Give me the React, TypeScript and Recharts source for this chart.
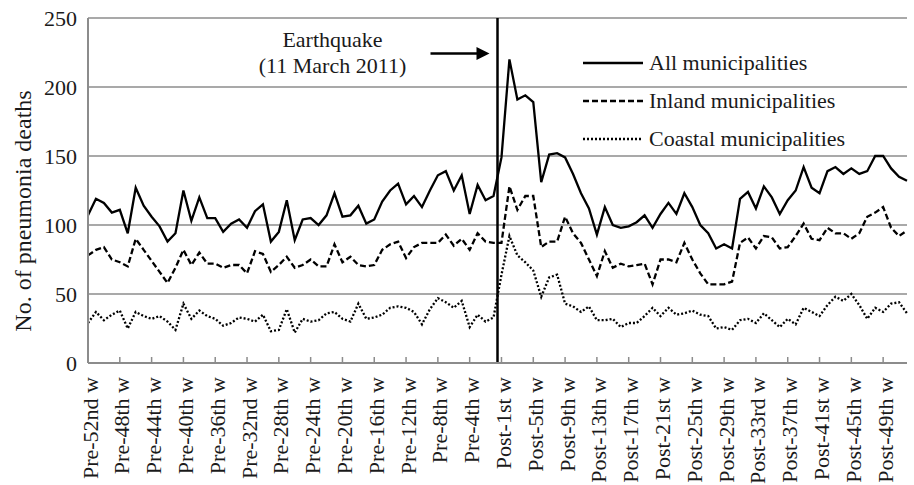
import {
  CartesianGrid,
  Legend,
  Line,
  LineChart,
  ReferenceLine,
  XAxis,
  YAxis,
} from "recharts";

const FONT = '"Liberation Serif", "Times New Roman", serif';
const TEXT = "#1a1a1a";
const GRID = "#8c8c8c";

const ordinal = (n: number) => {
  const tail = n % 100;
  if (tail >= 11 && tail <= 13) return `${n}th`;
  if (n % 10 === 1) return `${n}st`;
  if (n % 10 === 2) return `${n}nd`;
  if (n % 10 === 3) return `${n}rd`;
  return `${n}th`;
};

// week categories: 52 weeks before and 52 weeks after the earthquake
const preWeeks = Array.from({ length: 52 }, (_, i) => `Pre-${ordinal(52 - i)} w`);
const postWeeks = Array.from({ length: 52 }, (_, i) => `Post-${ordinal(i + 1)} w`);
const weeks = [...preWeeks, ...postWeeks];

// a label every 4th week
const tickIndices = [
  0, 4, 8, 12, 16, 20, 24, 28, 32, 36, 40, 44, 48, 52, 56, 60, 64, 68, 72, 76,
  80, 84, 88, 92, 96, 100,
];
const yTicks = [0, 50, 100, 150, 200, 250];

const allMunicipalities = [
  107, 119, 116, 109, 111, 94, 127, 114, 106, 99, 88, 94, 125, 103, 120, 105, 105, 95,
  101, 104, 98, 110, 115, 88, 95, 118, 89, 104, 105, 100, 107, 123, 106, 107, 114,
  101, 104, 117, 125, 130, 115, 121, 113, 125, 136, 139, 125, 136, 108, 129, 118, 121,
  149, 220, 191, 194, 189, 131, 151, 152, 149, 137, 123, 112, 93, 113, 100, 98, 99,
  102, 107, 98, 108, 116, 108, 123, 113, 100, 94, 83, 86, 83, 119, 124, 112, 128,
  120, 108, 118, 125, 142, 127, 123, 139, 142, 137, 141, 137, 139, 150, 150, 141, 135, 132,
];

const inlandMunicipalities = [
  78, 82, 84, 75, 73, 70, 90, 82, 74, 66, 58, 69, 82, 71, 80, 72, 72, 69,
  71, 71, 65, 81, 79, 66, 71, 77, 69, 71, 75, 70, 70, 86, 73, 77, 71,
  70, 71, 82, 86, 88, 76, 84, 87, 87, 87, 93, 85, 90, 82, 94, 88, 87,
  87, 128, 111, 121, 121, 84, 88, 88, 106, 94, 87, 75, 63, 81, 69, 72, 70,
  71, 72, 57, 75, 75, 73, 87, 75, 65, 57, 57, 57, 59, 87, 91, 83, 92,
  91, 83, 84, 92, 101, 90, 89, 98, 94, 94, 90, 94, 106, 109, 113, 98, 92, 96,
];

const coastalMunicipalities = [
  29, 37, 31, 35, 38, 25, 37, 34, 32, 34, 30, 24, 43, 32, 38, 34, 32, 27,
  29, 33, 32, 30, 35, 23, 24, 39, 22, 32, 30, 31, 36, 37, 32, 30, 43,
  32, 33, 35, 40, 41, 40, 37, 28, 39, 47, 44, 40, 45, 26, 35, 30, 33,
  64, 92, 78, 73, 67, 48, 62, 64, 43, 41, 37, 41, 31, 31, 32, 26, 29,
  29, 34, 40, 34, 40, 35, 36, 38, 35, 34, 25, 26, 24, 31, 32, 29, 36,
  31, 26, 32, 28, 40, 37, 34, 42, 48, 45, 50, 42, 32, 40, 37, 43, 44, 36,
];

const chartData = weeks.map((week, idx) => ({
  idx,
  week,
  all: allMunicipalities[idx],
  inland: inlandMunicipalities[idx],
  coastal: coastalMunicipalities[idx],
}));

const seriesOrder = ["all", "inland", "coastal"];
const dashes: Record<string, string | undefined> = {
  all: undefined,
  inland: "6 3",
  coastal: "2 2",
};

function WeekTick({ x, payload }: { x?: number; payload?: { value: number } }) {
  if (x == null || !payload) return null;
  return (
    <text
      transform={`translate(${x + 2}, 377) rotate(-90)`}
      textAnchor="end"
      dominantBaseline="central"
      fontSize={22}
      fontFamily={FONT}
      fill={TEXT}
    >
      {weeks[payload.value]}
    </text>
  );
}

function YTitle() {
  return (
    <text
      transform="translate(23, 211) rotate(-90)"
      textAnchor="middle"
      dominantBaseline="central"
      fontSize={24}
      fontFamily={FONT}
      fill={TEXT}
    >
      No. of pneumonia deaths
    </text>
  );
}

function QuakeNote({ viewBox }: { viewBox?: { x: number } }) {
  const x = viewBox?.x ?? 0;
  return (
    <g fontFamily={FONT} fontSize={22} fill={TEXT}>
      <text x={x - 165} y={47} textAnchor="middle">
        Earthquake
      </text>
      <text x={x - 165} y={73} textAnchor="middle">
        (11 March 2011)
      </text>
      <line x1={x - 67} x2={x - 20} y1={53.5} y2={53.5} stroke="#000" strokeWidth={2.5} />
      <polygon points={`${x - 21},47 ${x - 8},53.5 ${x - 21},60`} fill="#000" />
    </g>
  );
}

function renderLegend(props: any) {
  const payload = [...(props.payload ?? [])].sort(
    (a: any, b: any) => seriesOrder.indexOf(a.dataKey) - seriesOrder.indexOf(b.dataKey)
  );
  return (
    <div style={{ fontFamily: FONT, fontSize: 22, color: TEXT }}>
      {payload.map((entry: any) => (
        <div
          key={entry.value}
          style={{ display: "flex", alignItems: "center", height: 38 }}
        >
          <svg width={60} height={10} style={{ marginRight: 6 }}>
            <line
              x1={0}
              x2={60}
              y1={5}
              y2={5}
              stroke="#000"
              strokeWidth={2.5}
              strokeDasharray={dashes[entry.dataKey]}
            />
          </svg>
          <span>{entry.value}</span>
        </div>
      ))}
    </div>
  );
}

export default function App() {
  return (
    <div style={{ position: "absolute", left: 0, top: 0, background: "#fff" }}>
      <LineChart
        width={914}
        height={485}
        data={chartData}
        margin={{ top: 18, right: 7, bottom: 0, left: 0 }}
      >
        <CartesianGrid vertical={false} stroke={GRID} strokeWidth={1.5} />
        <XAxis
          type="number"
          dataKey="idx"
          domain={[0, 103]}
          ticks={tickIndices}
          interval={0}
          height={122}
          axisLine={{ stroke: GRID, strokeWidth: 2 }}
          tickLine={{ stroke: GRID, strokeWidth: 1.5 }}
          tickSize={-6}
          tick={<WeekTick />}
        />
        <YAxis
          type="number"
          domain={[0, 250]}
          ticks={yTicks}
          interval={0}
          width={88}
          axisLine={{ stroke: GRID, strokeWidth: 2 }}
          tickLine={false}
          tickSize={0}
          tickMargin={11}
          tick={{ fill: TEXT, fontSize: 22, fontFamily: FONT }}
          label={{ content: <YTitle /> }}
        />
        <Legend
          layout="horizontal"
          verticalAlign="middle"
          align="center"
          content={renderLegend}
          wrapperStyle={{ position: "absolute", left: 583, top: 44, width: 300 }}
        />
        <ReferenceLine
          x={51.5}
          stroke="#000"
          strokeWidth={2.5}
          label={<QuakeNote />}
        />
        <Line
          name="All municipalities"
          dataKey="all"
          type="linear"
          stroke="#000"
          strokeWidth={2.3}
          dot={false}
          isAnimationActive={false}
        />
        <Line
          name="Inland municipalities"
          dataKey="inland"
          type="linear"
          stroke="#000"
          strokeWidth={2.3}
          strokeDasharray={dashes.inland}
          dot={false}
          isAnimationActive={false}
        />
        <Line
          name="Coastal municipalities"
          dataKey="coastal"
          type="linear"
          stroke="#000"
          strokeWidth={2.3}
          strokeDasharray={dashes.coastal}
          dot={false}
          isAnimationActive={false}
        />
      </LineChart>
    </div>
  );
}
